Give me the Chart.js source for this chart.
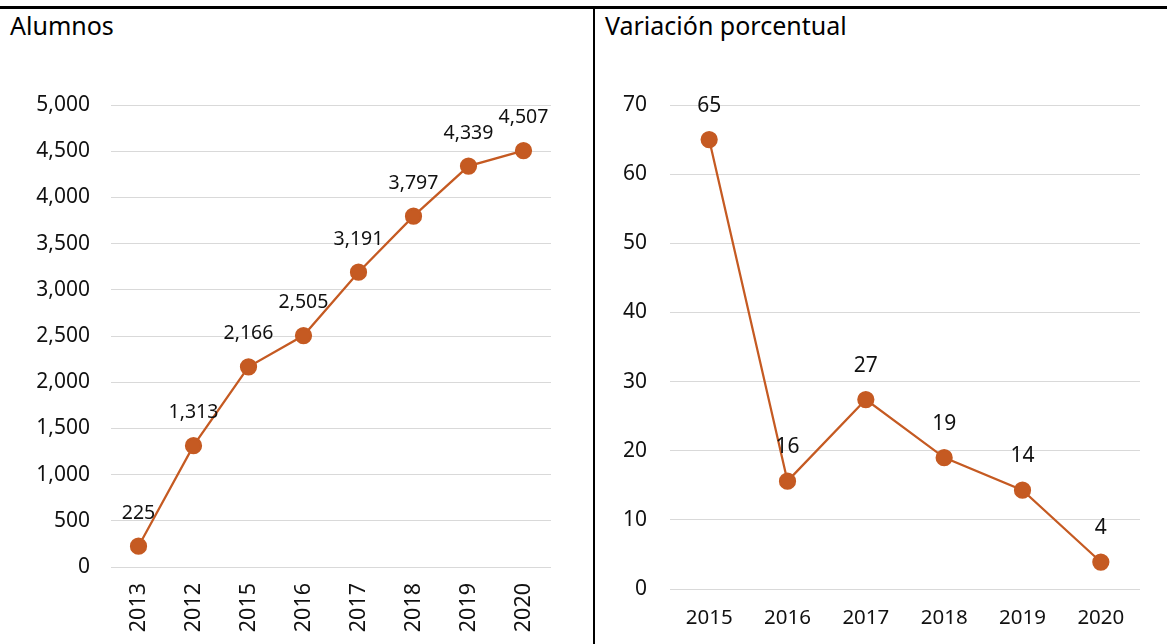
<!DOCTYPE html>
<html>
<head>
<meta charset="utf-8">
<script src="https://cdn.jsdelivr.net/npm/chart.js@4"></script>
<style>
  html, body { margin: 0; padding: 0; background: #fff; }
  body { width: 1167px; height: 644px; position: relative; overflow: hidden; font-family: "Noto Sans", sans-serif; }
  .topline { position: absolute; left: 0; top: 6px; width: 1167px; height: 3px; background: #000; }
  .divider { position: absolute; left: 593px; top: 6px; width: 2px; height: 640px; background: #000; }
  .ptitle { position: absolute; top: 9px; font-size: 25px; color: #000; line-height: 32px; }
  .box { position: absolute; top: 0; height: 644px; }
</style>
</head>
<body>
<div class="topline"></div>
<div class="divider"></div>
<div class="ptitle" style="left:10px">Alumnos</div>
<div class="ptitle" style="left:605px">Variación porcentual</div>
<div class="box" style="left:0;width:593px"><canvas id="c1" width="593" height="644"></canvas></div>
<div class="box" style="left:595px;width:572px"><canvas id="c2" width="572" height="644"></canvas></div>
<script>
// ---- data ----
const leftCategories = ["2013", "2012", "2015", "2016", "2017", "2018", "2019", "2020"];
const leftValues = [225, 1313, 2166, 2505, 3191, 3797, 4339, 4507];
const leftLabels = ["225", "1,313", "2,166", "2,505", "3,191", "3,797", "4,339", "4,507"];
const leftTicks = [0, 500, 1000, 1500, 2000, 2500, 3000, 3500, 4000, 4500, 5000];

const rightCategories = ["2015", "2016", "2017", "2018", "2019", "2020"];
const rightValues = [65.0, 15.6, 27.4, 19.0, 14.3, 3.9];
const rightLabels = ["65", "16", "27", "19", "14", "4"];
const rightTicks = [0, 10, 20, 30, 40, 50, 60, 70];

const ORANGE = "#C55A22";
const GRID = "#d9d9d9";
const FONT = "'Noto Sans', sans-serif";
const TEXT = "#111";

function labelPlugin(labels, fontSize, offset) {
  return {
    id: "pointLabels",
    afterDatasetsDraw(chart) {
      const ctx = chart.ctx;
      const meta = chart.getDatasetMeta(0);
      ctx.save();
      ctx.font = fontSize + "px " + FONT;
      ctx.fillStyle = TEXT;
      ctx.textAlign = "center";
      ctx.textBaseline = "middle";
      meta.data.forEach((pt, i) => {
        ctx.fillText(labels[i], pt.x, pt.y - offset);
      });
      ctx.restore();
    }
  };
}

function makeChart(id, cats, vals, labels, ticks, opts) {
  return new Chart(document.getElementById(id), {
    type: "line",
    data: {
      labels: cats,
      datasets: [{
        data: vals,
        borderColor: ORANGE,
        backgroundColor: ORANGE,
        borderWidth: 2.25,
        pointRadius: 7.5,
        pointHoverRadius: 7.5,
        pointBackgroundColor: ORANGE,
        pointBorderColor: ORANGE,
        tension: 0
      }]
    },
    options: {
      responsive: false,
      animation: false,
      layout: { padding: { top: 105, right: opts.right, bottom: 0, left: 0 } },
      plugins: { legend: { display: false }, tooltip: { enabled: false } },
      scales: {
        x: {
          offset: true,
          grid: { display: false, drawTicks: false },
          border: { display: false },
          ticks: {
            color: TEXT,
            font: { family: FONT, size: opts.xFont },
            padding: opts.xPad,
            minRotation: opts.rot,
            maxRotation: opts.rot,
            autoSkip: false
          },
          afterFit(s) { s.height = opts.xHeight; }
        },
        y: {
          min: ticks[0],
          max: ticks[ticks.length - 1],
          afterBuildTicks(s) { s.ticks = ticks.map(v => ({ value: v })); },
          grid: { color: GRID, lineWidth: 1, drawTicks: false },
          border: { display: false },
          ticks: {
            color: TEXT,
            font: { family: FONT, size: opts.yFont },
            padding: opts.yPad,
            callback: (v) => v.toLocaleString("en-US")
          },
          afterFit(s) { s.width = opts.yWidth; }
        }
      }
    },
    plugins: [labelPlugin(labels, opts.lblFont, opts.lblOff)]
  });
}

makeChart("c1", leftCategories, leftValues, leftLabels, leftTicks,
  { right: 42, xFont: 21.5, xPad: 16, rot: 90, xHeight: 77, yFont: 21, yPad: 21, yWidth: 111, lblFont: 19.5, lblOff: 33 });
makeChart("c2", rightCategories, rightValues, rightLabels, rightTicks,
  { right: 27, xFont: 20.5, xPad: 17, rot: 0, xHeight: 55, yFont: 21, yPad: 23, yWidth: 75, lblFont: 21, lblOff: 34 });
</script>
</body>
</html>
